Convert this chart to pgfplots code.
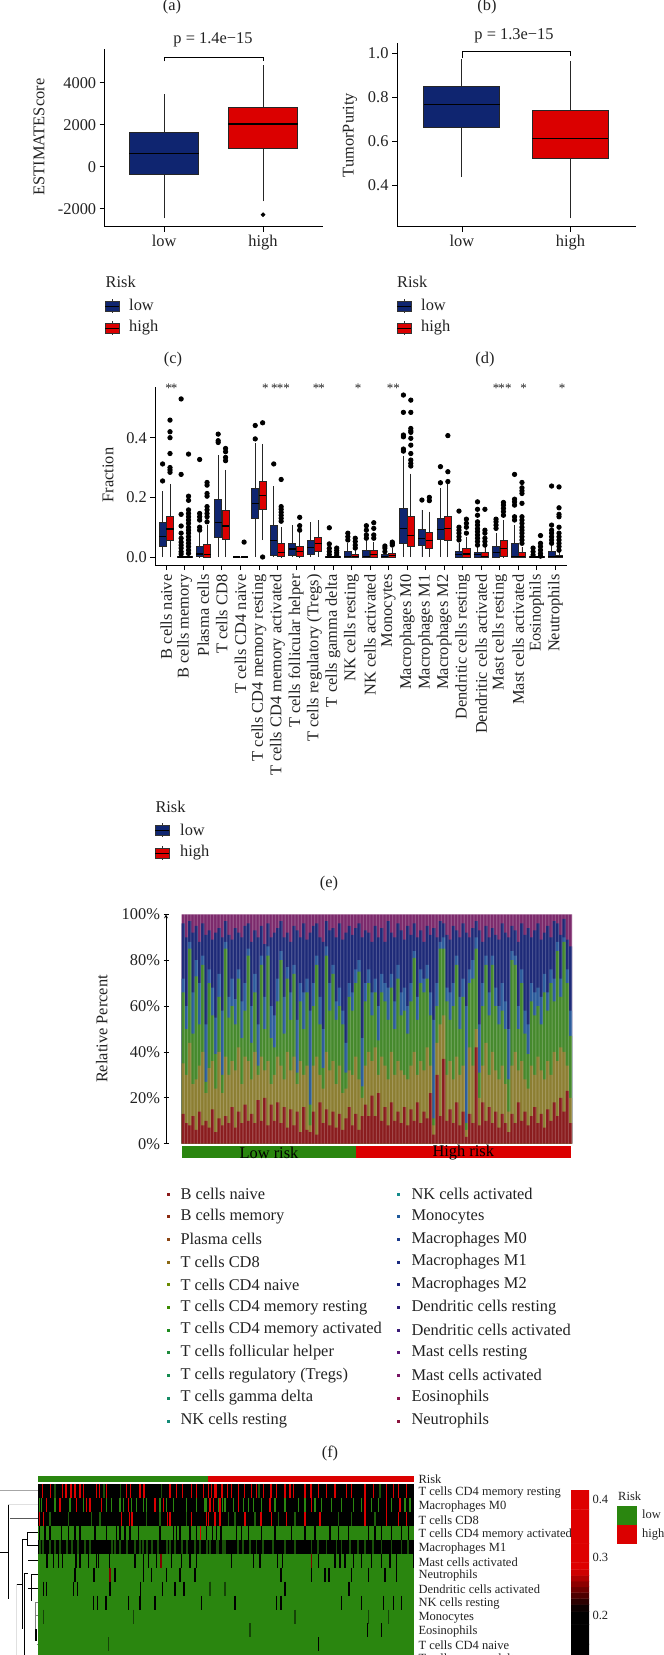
\documentclass[border=0pt]{standalone}
\usepackage{fontspec}
\setmainfont{Liberation Serif}
\usepackage{pgfplots}
\usepackage{pgfplotstable}
\pgfplotsset{compat=1.18}
\usepgfplotslibrary{statistics}

\definecolor{hblue}{HTML}{0F2570}
\definecolor{hred}{HTML}{DB0000}
\definecolor{hgreen}{HTML}{2A860F}
\definecolor{txt}{HTML}{222222}
\definecolor{fT}{HTML}{7C2A6C}
\definecolor{fN}{HTML}{1E2A78}
\definecolor{fB}{HTML}{2C5C9C}
\definecolor{fG}{HTML}{45892C}
\definecolor{fO}{HTML}{8C7E32}
\definecolor{fR}{HTML}{8A1C1E}

\newcommand\fz[1]{\fontsize{#1}{#1}\selectfont}

\pgfplotsset{
  pub/.style={scale only axis, axis lines=left, axis line style={-, line width=0.8pt},
    tick style={black, line width=0.8pt}, tick align=outside, major tick length=5pt,
    tick label style={font=\fz{16.4}, text=txt}, scaled ticks=false, clip=false},
  bstyle/.style={draw=black!85, line width=0.9pt, mark=*, mark size=1.8pt,
    mark options={fill=black, draw=black}, boxplot/draw direction=y,
    boxplot/whisker extend=0, boxplot/every median/.style={line width=1.5pt, draw=black}},
}

% one box: position, colour, lower whisker, q1, median, q3, upper whisker, outliers
\newcommand\bx[8]{\addplot[bstyle, fill=#2, boxplot prepared={draw position=#1,
   lower whisker=#3, lower quartile=#4, median=#5, upper quartile=#6, upper whisker=#7}]
   table[row sep=\\, y index=0] {data\\#8};}

% heatmap stripes of one row
\newcommand\stripe[4][1.2pt]{\addplot[only marks, mark=|, mark size=7pt,
   mark options={line width=#1, draw=#3, color=#3}]
   table[row sep=\\, header=false, x index=0, y expr=#2] {#4};}

\newcommand\riskkey[3]{%
  \draw[black!80, line width=.7pt] (#1+7,#2-7) -- (#1+7,#2+7);
  \filldraw[draw=black!80, fill=#3, line width=.8pt] (#1,#2-5) rectangle (#1+14,#2+5);
  \draw[black, line width=.9pt] (#1,#2) -- (#1+14,#2);}

\pgfplotstableread{
r o g b n t
13 35 66 72 96 100
9 30 50 60 90 100
8 44 85 88 97 100
12 26 48 66 92 100
6 28 73 80 95 100
14 34 52 70 88 100
8 40 78 82 96 100
10 22 27 52 91 100
7 33 70 76 93 100
15 36 56 68 89 100
5 24 39 55 92 100
11 40 64 74 94 100
8 22 30 58 90 100
12 38 85 88 97 100
9 30 55 64 91 100
16 36 60 72 89 100
7 32 52 63 94 100
14 42 72 76 92 100
9 26 46 62 90 100
17 38 58 70 95 100
10 36 82 85 96 100
13 28 44 60 88 100
9 40 66 74 93 100
19 30 34 52 90 100
10 38 78 82 95 100
20 32 50 64 87 100
8 36 82 86 96 100
17 26 46 60 90 100
10 30 42 56 92 100
18 38 62 72 94 100
9 34 80 84 97 100
16 28 48 64 90 100
7 40 72 77 92 100
15 32 54 66 88 100
8 38 74 78 95 100
14 26 31 54 93 100
5 36 62 70 90 100
16 30 50 66 96 100
6 34 66 72 89 100
5 8 17 58 92 100
14 34 60 70 95 100
4 38 78 82 96 100
18 30 52 64 90 100
9 24 33 50 88 100
15 40 82 86 97 100
8 32 58 70 93 100
14 36 74 78 94 100
7 26 54 62 90 100
13 34 60 68 96 100
6 22 52 58 89 100
11 24 31 44 92 100
16 32 64 70 95 100
8 30 58 66 91 100
13 38 70 76 94 100
6 28 75 80 96 100
12 20 25 46 90 100
17 34 62 70 93 100
12 40 70 76 92 100
21 36 56 66 88 100
12 42 66 72 95 100
22 30 45 60 90 100
10 38 66 74 94 100
16 34 62 70 88 100
8 28 54 68 97 100
18 40 68 74 92 100
10 30 50 62 90 100
14 36 72 78 96 100
9 32 56 66 93 100
16 30 58 68 89 100
8 28 48 60 95 100
15 34 62 70 91 100
10 40 81 84 96 100
18 30 54 64 90 100
9 36 70 76 93 100
14 32 66 72 88 100
11 42 72 78 95 100
22 34 56 66 91 100
4 8 11 54 94 100
30 44 60 70 90 100
12 52 85 88 97 100
37 56 85 90 96 100
10 30 62 68 91 100
15 36 54 66 89 100
9 28 60 70 95 100
18 38 78 82 93 100
8 30 50 64 90 100
14 34 64 72 96 100
3 6 9 60 92 100
13 42 70 76 90 100
9 34 72 80 94 100
42 50 85 90 97 100
8 20 31 52 93 100
18 34 60 70 88 100
10 44 78 82 95 100
16 30 56 66 90 100
9 40 78 82 94 100
14 32 60 68 91 100
7 28 52 60 89 100
13 34 58 70 96 100
9 26 50 62 92 100
5 14 28 50 90 100
13 34 80 84 95 100
9 40 78 82 93 100
18 32 50 60 88 100
10 36 70 76 96 100
14 28 48 58 91 100
8 24 39 52 94 100
12 34 62 70 90 100
16 30 56 66 93 100
9 38 60 68 96 100
13 32 52 64 89 100
7 28 66 74 92 100
15 36 58 66 95 100
10 30 70 76 90 100
18 40 62 72 97 100
12 36 84 88 96 100
20 42 64 72 91 100
14 40 88 90 98 100
23 34 70 76 89 100
9 20 47 58 86 100
}\fdata

\begin{document}
\begin{tikzpicture}
\path[use as bounding box] (0pt,0pt) rectangle (664pt,-1655pt);
\clip (0pt,0pt) rectangle (664pt,-1655pt);

% (c)
\begin{axis}[pub, at={(104.7pt,-226.7pt)}, anchor=south west, width=218.3pt, height=177.4pt,
  xmin=0.4, xmax=2.606, ymin=-2857, ymax=5590,
  xtick={1,2}, xticklabels={low,high},
  ytick={-2000,0,2000,4000}, yticklabels={-2000,0,2000,4000},
  boxplot/box extend=.7]
\bx{1}{hblue}{-2460}{-350}{635}{1635}{3460}{}
\bx{2}{hred}{-1650}{873}{2030}{2825}{4840}{-2285\\}
\addplot[black, line width=.8pt] coordinates {(1,5020) (1,5206) (2,5206) (2,5020)};
\end{axis}

% (d)
\begin{axis}[pub, at={(397pt,-226.7pt)}, anchor=south west, width=238.6pt, height=183.4pt,
  xmin=0.402, xmax=2.6, ymin=0.2106, ymax=1.044,
  xtick={1,2}, xticklabels={low,high},
  ytick={0.4,0.6,0.8,1.0}, yticklabels={0.4,0.6,0.8,1.0},
  boxplot/box extend=.7]
\bx{1}{hblue}{.436}{.662}{.765}{.85}{.971}{}
\bx{2}{hred}{.248}{.521}{.612}{.74}{.964}{}
\addplot[black, line width=.8pt] coordinates {(1,.975) (1,1.006) (2,1.006) (2,.985)};
\end{axis}

% (e)
\begin{axis}[pub, at={(155.3pt,-565pt)}, anchor=south west, width=411.4pt, height=178pt,
  xmin=0.406, xmax=22.615, ymin=-0.0268, ymax=0.57,
  xtick={1,...,22}, ytick={0,0.2,0.4}, yticklabels={0.0,0.2,0.4},
  xticklabels={B cells naive,B cells memory,Plasma cells,T cells CD8,T cells CD4 naive,
    T cells CD4 memory resting,T cells CD4 memory activated,T cells follicular helper,
    T cells regulatory (Tregs),T cells gamma delta,NK cells resting,NK cells activated,
    Monocytes,Macrophages M0,Macrophages M1,Macrophages M2,Dendritic cells resting,
    Dendritic cells activated,Mast cells resting,Mast cells activated,Eosinophils,Neutrophils},
  xticklabel style={rotate=90, anchor=east, xshift=-1pt},
  boxplot/box extend=.38,
  bstyle/.append style={line width=.8pt, mark size=2.2pt, boxplot/every median/.style={line width=1.1pt, draw=black}}]
\bx{.8}{hblue}{0}{.035}{.07}{.115}{.221}{.312\\.255\\}
\bx{1.2}{hred}{0}{.057}{.094}{.135}{.245}{.459\\.42\\.40\\.347\\.30\\.292\\.284\\}
\bx{1.8}{hblue}{0}{0}{0}{.002}{.004}{.53\\.277\\.143\\.104\\.08\\.063\\.05\\.04\\.03\\.018\\.01\\}
\bx{2.2}{hred}{0}{0}{0}{.002}{.004}{.345\\.204\\.19\\.158\\.146\\.135\\.124\\.113\\.10\\.09\\.08\\.068\\.057\\.046\\.035\\.023\\.012\\}
\bx{2.8}{hblue}{0}{.001}{.01}{.037}{.08}{.327\\.146\\.135\\.124\\.10\\.09\\}
\bx{3.2}{hred}{0}{0}{.009}{.042}{.107}{.25\\.241\\.213\\.204\\.169\\.158\\.146\\.135\\.118\\}
\bx{3.8}{hblue}{0}{.065}{.115}{.193}{.342}{.412\\.39\\.384\\}
\bx{4.2}{hred}{0}{.06}{.104}{.155}{.292}{.364\\.353\\.334\\.323\\}
\bx{4.8}{hblue}{0}{0}{0}{0}{0}{}
\bx{5.2}{hred}{0}{0}{0}{0}{0}{.05\\}
\bx{5.8}{hblue}{0}{.128}{.18}{.231}{.381}{.441\\.396\\}
\bx{6.2}{hred}{.057}{.158}{.206}{.252}{.379}{.45\\0\\}
\bx{6.8}{hblue}{0}{.004}{.054}{.107}{.238}{.312\\}
\bx{7.2}{hred}{0}{.001}{.015}{.046}{.10}{.26\\.169\\.16\\.15\\.14\\.13\\.12\\}
\bx{7.8}{hblue}{0}{.004}{.027}{.046}{.107}{}
\bx{8.2}{hred}{0}{.001}{.02}{.035}{.09}{.133\\.105\\.09\\}
\bx{8.8}{hblue}{0}{.009}{.031}{.057}{.117}{}
\bx{9.2}{hred}{0}{.018}{.045}{.066}{.124}{}
\bx{9.8}{hblue}{0}{0}{0}{.001}{.002}{.098\\.044\\.029\\.018\\.008\\}
\bx{10.2}{hred}{0}{0}{0}{.001}{.002}{.03\\.022\\.014\\.006\\}
\bx{10.8}{hblue}{0}{0}{.003}{.02}{.046}{.08\\.068\\.057\\}
\bx{11.2}{hred}{0}{0}{.001}{.009}{.023}{.063\\.052\\.04\\.03\\}
\bx{11.8}{hblue}{0}{0}{.003}{.023}{.057}{.105\\.09\\.074\\.063\\}
\bx{12.2}{hred}{0}{0}{.008}{.021}{.05}{.115\\.096\\.074\\.063\\}
\bx{12.8}{hblue}{0}{0}{.001}{.009}{.018}{.037\\.03\\.018\\}
\bx{13.2}{hred}{0}{0}{.004}{.012}{.029}{.05\\.045\\.04\\}
\bx{13.8}{hblue}{0}{.045}{.097}{.163}{.34}{.543\\.485\\.409\\.403\\.362\\.355\\}
\bx{14.2}{hred}{0}{.035}{.072}{.137}{.28}{.526\\.485\\.431\\.423\\.418\\.398\\.375\\.347\\.325\\.314\\.305\\}
\bx{14.8}{hblue}{0}{.039}{.061}{.093}{.158}{.191\\}
\bx{15.2}{hred}{0}{.028}{.055}{.082}{.152}{.2\\.189\\}
\bx{15.8}{hblue}{0}{.06}{.093}{.13}{.23}{.303\\.249\\}
\bx{16.2}{hred}{0}{.057}{.095}{.135}{.245}{.407\\.286\\.253\\}
\bx{16.8}{hblue}{0}{0}{.009}{.018}{.046}{.154\\.10\\.09\\.08\\.068\\.057\\}
\bx{17.2}{hred}{0}{0}{.01}{.029}{.068}{.127\\.113\\.10\\.08\\}
\bx{17.8}{hblue}{0}{0}{.009}{.015}{.035}{.185\\.16\\.14\\.118\\.107\\.095\\.085\\.074\\.063\\.052\\.04\\}
\bx{18.2}{hred}{0}{0}{.003}{.016}{.035}{.16\\.09\\.08\\.063\\.052\\.04\\}
\bx{18.8}{hblue}{0}{0}{.015}{.035}{.08}{.127\\.118\\.107\\.096\\}
\bx{19.2}{hred}{0}{.001}{.029}{.057}{.124}{.183\\.174\\.163\\.152\\.14\\}
\bx{19.8}{hblue}{0}{0}{.001}{.046}{.107}{.277\\.194\\.185\\.174\\.135\\.124\\}
\bx{20.2}{hred}{0}{0}{.001}{.015}{.035}{.25\\.232\\.222\\.213\\.18\\.135\\.124\\.113\\.10\\.09\\.08\\.068\\.057\\.046\\}
\bx{20.8}{hblue}{0}{0}{0}{.001}{.003}{.03\\.018\\.007\\}
\bx{21.2}{hred}{0}{0}{0}{.001}{.003}{.072\\.046\\.035\\.023\\.012\\.003\\}
\bx{21.8}{hblue}{0}{0}{.001}{.018}{.04}{.238\\.107\\.09\\.08\\.068\\.057\\.046\\}
\bx{22.2}{hred}{0}{0}{.001}{.007}{.018}{.235\\.165\\.143\\.135\\.10\\.08\\.068\\.057\\.046\\.035\\.023\\}
\end{axis}

% (f)
\begin{axis}[pub, at={(166pt,-1143.7pt)}, anchor=south west, width=406pt, height=229.4pt,
  axis x line=none, axis y line=left, xmin=-4.32, xmax=120.46, ymin=0, ymax=100,
  ytick={0,20,40,60,80,100}, yticklabels={0\%,20\%,40\%,60\%,80\%,100\%},
  ybar, bar width=3.3pt, bar shift=0pt, clip=true]
\addplot[fill=fT, draw=none, bar shift=0pt] table[x expr=\coordindex+1, y=t] {\fdata};
\addplot[fill=fN, draw=none, bar shift=0pt] table[x expr=\coordindex+1, y=n] {\fdata};
\addplot[fill=fB, draw=none, bar shift=0pt] table[x expr=\coordindex+1, y=b] {\fdata};
\addplot[fill=fG, draw=none, bar shift=0pt] table[x expr=\coordindex+1, y=g] {\fdata};
\addplot[fill=fO, draw=none, bar shift=0pt] table[x expr=\coordindex+1, y=o] {\fdata};
\addplot[fill=fR, draw=none, bar shift=0pt] table[x expr=\coordindex+1, y=r] {\fdata};
% thin pale gap between neighbouring samples
\addplot[fill=white, fill opacity=.2, draw=none, bar shift=1.1pt, bar width=1.1pt] table[x expr=\coordindex+1, y=t] {\fdata};
\end{axis}

% (g) heat map, x in thirds of a pixel
\begin{axis}[scale only axis, hide axis, at={(38pt,-1655pt)}, anchor=south west,
  width=376.3pt, height=171pt, xmin=114, xmax=1243, ymin=.5, ymax=12.76, y dir=reverse]
\addplot[fill=black, draw=none] coordinates {(114,.5) (1243,.5) (1243,3.5) (114,3.5)} --cycle;
\addplot[fill=hgreen, draw=none] coordinates {(114,3.5) (1243,3.5) (1243,4.5) (114,4.5)} --cycle;
\addplot[fill=black, draw=none] coordinates {(114,4.5) (1243,4.5) (1243,5.5) (114,5.5)} --cycle;
\addplot[fill=hgreen, draw=none] coordinates {(114,5.5) (1243,5.5) (1243,13.5) (114,13.5)} --cycle;
\stripe{1}{hgreen!60!black}{165\\312\\362\\485\\777\\1140\\}
\stripe{1}{hred}{127\\152\\188\\198\\213\\225\\240\\250\\290\\298\\320\\380\\392\\420\\432\\510\\530\\547\\575\\590\\610\\635\\650\\668\\625\\645\\665\\683\\695\\715\\733\\755\\770\\790\\813\\830\\855\\870\\880\\915\\933\\955\\980\\1005\\1040\\1055\\1095\\1120\\1160\\1180\\1195\\1220\\}
\stripe{2}{hgreen}{118\\125\\165\\210\\250\\320\\335\\360\\370\\395\\410\\430\\440\\480\\500\\520\\560\\590\\615\\620\\668\\655\\675\\700\\730\\745\\760\\785\\825\\855\\895\\915\\945\\965\\995\\1025\\1060\\1085\\1115\\1135\\1175\\1215\\1230\\}
\stripe{2}{hred}{140\\180\\230\\260\\270\\305\\385\\465\\490\\630\\660\\640\\715\\810\\935\\1095\\1160\\1200\\}
\stripe{3}{hgreen!70!black}{150\\205\\275\\300\\440\\480\\560\\685\\705\\765\\835\\885\\1015\\1055\\1125\\}
\stripe{3}{hred}{118\\130\\365\\388\\396\\502\\510\\575\\620\\625\\645\\660\\735\\783\\815\\860\\915\\960\\1095\\1160\\1195\\1220\\}
\stripe{4}{black}{118\\135\\150\\185\\205\\225\\240\\285\\320\\350\\360\\375\\390\\415\\480\\520\\530\\540\\570\\590\\650\\620\\637\\663\\710\\725\\745\\785\\825\\875\\915\\945\\990\\1015\\1045\\1105\\1125\\1145\\1175\\1205\\1225\\}
\stripe{4}{hred}{602\\}
\stripe[1.7pt]{5}{hgreen!60!black}{120\\130\\150\\165\\180\\200\\215\\235\\255\\270\\335\\345\\360\\380\\405\\420\\430\\440\\455\\475\\500\\510\\525\\545\\560\\585\\600\\630\\650\\668\\620\\655\\675\\715\\730\\750\\770\\790\\820\\855\\885\\935\\955\\980\\1010\\1025\\1050\\1075\\1095\\1120\\1145\\1175\\1205\\1225\\}
\stripe{6}{black}{140\\143\\160\\175\\188\\228\\240\\265\\290\\295\\328\\405\\430\\445\\470\\515\\545\\570\\590\\695\\760\\780\\833\\847\\955\\1005\\1020\\1035\\1060\\1085\\1115\\1145\\1170\\1190\\1240\\}
\stripe{6}{red!50!black}{483\\935\\}
\stripe{7}{black}{225\\282\\345\\430\\455\\500\\540\\585\\843\\935\\975\\987\\1055\\1105\\1155\\1190\\}
\stripe{7}{red!50!black}{330\\}
\stripe{8}{black}{130\\140\\220\\232\\330\\422\\488\\525\\552\\630\\855\\1045\\1047\\}
\stripe{8}{hgreen!50!black}{675\\630\\}
\stripe{9}{black}{280\\293\\318\\385\\420\\465\\605\\705\\830\\843\\1025\\1085\\1150\\1180\\1205\\}
\stripe{10}{hgreen!50!black}{130\\400\\885\\1165\\1105\\}
\stripe{11}{black}{1103\\1145\\}
\stripe{11}{hgreen!50!black}{750\\}
\stripe{12}{black}{955\\}
\stripe{12}{hgreen!50!black}{325\\}
\stripe{13}{black}{218\\545\\}
\end{axis}

% colour bar
\begin{axis}[scale only axis, at={(571pt,-1655pt)}, anchor=south west, width=18pt, height=165pt,
  xmin=0, xmax=1, ymin=.1326, ymax=.417, hide x axis, axis y line*=right,
  axis line style={draw=none}, ytick={.2,.3,.4}, yticklabels={0.2,0.3,0.4},
  major tick length=0pt, tick label style={font=\fz{12.5}, text=txt}, scaled ticks=false,
  colormap={hm}{rgb255(0cm)=(0,0,0) rgb255(8cm)=(0,0,0) rgb255(15cm)=(222,0,0) rgb255(29cm)=(222,0,0)},
  point meta min=.133, point meta max=.417]
\addplot[matrix plot*, point meta=y, mesh/cols=2] coordinates {
(0,.133)(1,.133)
(0,.17)(1,.17)
(0,.20)(1,.20)
(0,.215)(1,.215)
(0,.225)(1,.225)
(0,.235)(1,.235)
(0,.245)(1,.245)
(0,.255)(1,.255)
(0,.265)(1,.265)
(0,.275)(1,.275)
(0,.285)(1,.285)
(0,.30)(1,.30)
(0,.35)(1,.35)
(0,.417)(1,.417)
};
\end{axis}

\begin{scope}[x=1pt,y=-1pt]
% dendrogram
\begin{scope}[x=1/3 pt, y=-1/3 pt, yshift=-1474pt, line width=.8pt]
\draw[black!35] (0,48) -- (113,48);
\draw[black!12] (25,92) -- (113,92);
\draw (25,92) -- (25,376);
\draw (0,236) -- (25,236);
\draw[black!65] (30,133) -- (113,133);
\draw (85,175) -- (113,175);
\draw (85,215) -- (113,215);
\draw (82,175) -- (82,215);
\draw (68,196) -- (82,196);
\draw (68,196) -- (68,465);
\draw (85,259) -- (113,259);
\draw (50,330) -- (68,330);
\draw[black!12] (50,330) -- (50,543);
\draw (72,298) -- (72,543);
\draw (72,298) -- (85,298);
\draw (95,300) -- (95,380);
\draw (95,302) -- (113,302);
\draw (85,343) -- (113,343);
\draw[line width=1.4pt] (95,343) -- (95,382);
\draw[black!50] (105,385) -- (113,385);
\draw[black!50] (105,425) -- (113,425);
\draw[black!50] (105,385) -- (105,465);
\draw[line width=1.2pt] (108,465) -- (108,500);
\draw[black!50] (110,510) -- (113,510);
\end{scope}

% annotation bars
\fill[hgreen] (38,1476) rectangle (207.5,1482);
\fill[hred] (207.5,1476) rectangle (414.4,1482);
\fill[hgreen] (182.3,1146) rectangle (356,1157.7);
\fill[hred] (356,1146) rectangle (571,1157.7);
\fill[hgreen] (617,1505.7) rectangle (637,1524.7);
\fill[hred] (617,1524.7) rectangle (637,1544);

\begin{scope}[every node/.style={text=txt, inner sep=0pt}]
\tikzset{nc/.style={anchor=center, font=\fz{16.4}}, nl/.style={anchor=west, font=\fz{16.4}},
  hl/.style={anchor=west, font=\fz{12.5}}}
% panel letters
\node[nc] at (172,6.7) {(a)};
\node[nc] at (487,6.7) {(b)};
\node[nc] at (173,360) {(c)};
\node[nc] at (485,360) {(d)};
\node[nc] at (329,884) {(e)};
\node[nc] at (330,1453) {(f)};
% p values
\node[nc] at (213,40) {p = 1.4e−15};
\node[nc] at (514,36) {p = 1.3e−15};
% axis titles
\node[nc, rotate=90] at (39,137) {ESTIMATEScore};
\node[nc, rotate=90] at (350,135) {TumorPurity};
\node[nc, rotate=90] at (108,475) {Fraction};
\node[nc, rotate=90] at (101.7,1029) {Relative Percent};
% significance stars
\foreach \z in {266,282,556,583,600,620,708,725,834,930,950,1248,1265,1285,1331,1446}
  \node[font=\fz{13}] at ({80+\z/3},388) {*};
% risk keys
\node[nl] at (105.5,281.7) {Risk};
\riskkey{105}{306}{hblue}
\riskkey{105}{328}{hred}
\node[nl] at (129,305) {low};
\node[nl] at (129,328) {high};
\node[nl] at (397,281.7) {Risk};
\riskkey{397}{306}{hblue}
\riskkey{397}{328}{hred}
\node[nl] at (421,305) {low};
\node[nl] at (421,328) {high};
\node[nl] at (155.3,806.7) {Risk};
\riskkey{155}{830}{hblue}
\riskkey{155}{853}{hred}
\node[nl] at (180,830) {low};
\node[nl] at (180,852.7) {high};
% bar labels in (f)
\node[nc, text=black] at (269,1152.7) {Low risk};
\node[nc, text=black] at (463.3,1152.7) {High risk};
% legend of (f)
\foreach \t/\c/\y in {B cells naive/8B1A1A/1194,B cells memory/8B2A10/1216.7,Plasma cells/8B4513/1239.3,T cells CD8/8B6914/1262,T cells CD4 naive/6B8B00/1284.7,T cells CD4 memory resting/3C8B00/1307.3,T cells CD4 memory activated/1E8B1E/1330,T cells follicular helper/1E8B3C/1352.3,T cells regulatory (Tregs)/148B50/1375.3,T cells gamma delta/148B64/1398,NK cells resting/148B78/1421}{
  \definecolor{kc}{HTML}{\c}
  \fill[kc] (166.5,\y-1.5) rectangle (169.5,\y+1.5);
  \node[nl] at (180.3,\y) {\t};}
\foreach \t/\c/\y in {NK cells activated/148B8B/1194,Monocytes/1E5A9B/1216.7,Macrophages M0/1A3A8B/1239.3,Macrophages M1/1A2A80/1262,Macrophages M2/1A2078/1284.7,Dendritic cells resting/2A1A78/1307.3,Dendritic cells activated/3A1A78/1330,Mast cells resting/5A1478/1352.3,Mast cells activated/781464/1375.3,Eosinophils/8B1450/1398,Neutrophils/8B143C/1421}{
  \definecolor{kc}{HTML}{\c}
  \fill[kc] (397.2,\y-1.5) rectangle (400.2,\y+1.5);
  \node[nl] at (411.3,\y) {\t};}
% heat map labels
\node[hl] at (418.3,1479) {Risk};
\foreach \t/\y in {T cells CD4 memory resting/1492.3,Macrophages M0/1506.3,T cells CD8/1520,T cells CD4 memory activated/1534,Macrophages M1/1548,Mast cells activated/1562,Neutrophils/1575.3,Dendritic cells activated/1589,NK cells resting/1603,Monocytes/1617.3,Eosinophils/1631.3,T cells CD4 naive/1645.3,T cells gamma delta/1659}
  \node[hl] at (418.3,\y) {\t};
\node[hl] at (618,1496.7) {Risk};
\node[hl] at (642,1514) {low};
\node[hl] at (642,1534) {high};
\end{scope}
\end{scope}
\end{tikzpicture}
\end{document}
